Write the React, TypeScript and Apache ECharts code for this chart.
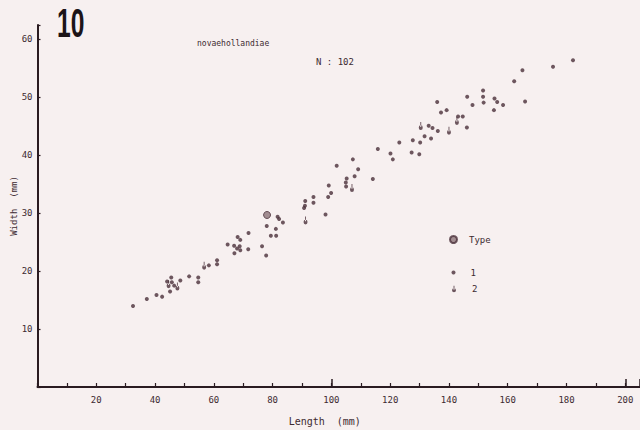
import React, { useEffect, useRef } from "react";
import * as echarts from "echarts";

// Shell length / width (mm), specimens plotted singly
const lengthOne = [
  32.5, 37.2, 40.5, 42.4, 45.5, 44.1, 45.7, 46.5, 45.1, 48.6, 51.6, 54.7, 54.7, 58.3, 61.1, 61.1,
  64.7, 66.9, 67.0, 68.1, 69.0, 68.8, 67.9, 69.0, 71.8, 71.7, 76.4, 77.8, 78.0, 81.7, 82.2, 83.5,
  81.1, 79.4, 81.2, 91.1, 91.0, 90.7, 93.9, 93.9, 98.0, 98.9, 99.9, 99.1, 101.8, 105.2, 104.9,
  105.0, 107.3, 107.9, 109.1, 114.1, 115.8, 120.1, 120.9, 123.1, 127.3, 129.9, 127.7, 130.2,
  131.7, 133.1, 134.4, 136.2, 133.9, 136.0, 137.3, 139.2, 143.1, 144.7, 146.1, 146.2, 148.0,
  151.6, 151.6, 151.8, 155.5, 156.4, 155.3, 158.4, 162.2, 165.0, 165.9, 175.4, 182.2,
];
const widthOne = [
  14.0, 15.2, 15.9, 15.6, 18.9, 18.2, 18.1, 17.5, 16.5, 18.4, 19.1, 18.9, 18.1, 21.0, 21.9, 21.2,
  24.6, 24.4, 23.1, 25.9, 25.4, 24.3, 23.9, 23.6, 26.6, 23.8, 24.3, 22.7, 27.8, 29.4, 29.0, 28.4,
  27.3, 26.1, 26.1, 32.1, 31.3, 30.9, 32.8, 31.8, 29.8, 32.8, 33.5, 34.8, 38.2, 36.0, 35.3,
  34.6, 39.3, 36.4, 37.6, 35.9, 41.1, 40.3, 39.3, 42.2, 40.5, 40.2, 42.6, 42.2,
  43.3, 45.1, 44.7, 44.2, 42.9, 49.2, 47.4, 47.8, 46.7, 46.7, 44.8, 50.1, 48.7,
  51.2, 50.1, 49.1, 49.8, 49.2, 47.8, 48.7, 52.8, 54.7, 49.3, 55.3, 56.4,
];

// Coinciding pairs of specimens
const lengthTwo = [44.6, 47.6, 56.7, 91.2, 107.0, 130.4, 140.0, 142.7];
const widthTwo = [17.4, 17.0, 20.6, 28.4, 34.0, 44.7, 43.9, 45.6];

// Type specimen
const lengthType = [78.1];
const widthType = [29.7];

const xTickLabels = [20, 40, 60, 80, 100, 120, 140, 160, 180, 200];
const yTickLabels = [10, 20, 30, 40, 50, 60];

const ink = "#4a3039";
const axisInk = "#2a1b21";
const textInk = "#3d2a31";
const mono = '"DejaVu Sans Mono", "Liberation Mono", monospace';

const pairSymbol = "path://M0,7A3,3,0,1,0,6,7A3,3,0,1,0,0,7Z M2.3,0H3.7V6H2.3Z";

const zip = (xs: number[], ys: number[]) => xs.map((x, i) => [x, ys[i]]);

const legendText = (padLeft: number) => ({
  fontFamily: mono,
  fontSize: 9,
  color: textInk,
  padding: [0, 0, 0, padLeft],
});

export default function App() {
  const ref = useRef<HTMLDivElement>(null);

  useEffect(() => {
    if (!ref.current) return;
    const chart = echarts.init(ref.current, null, { renderer: "svg" });
    const xShown = new Set(xTickLabels.map(String));
    const yShown = new Set(yTickLabels.map(String));

    chart.setOption({
      animation: false,
      backgroundColor: "#f7f0f0",
      grid: { left: 37.5, right: 0, top: 25, bottom: 43, outerBoundsMode: "none" },
      graphic: [
        {
          type: "text",
          x: 57,
          y: 7,
          scaleX: 0.6,
          style: {
            text: "10",
            font: 'bold 41px "Liberation Sans Narrow", "Liberation Sans", sans-serif',
            lineHeight: 30,
            fill: "#1c1418",
          },
        },
        {
          type: "text",
          x: 197,
          y: 39,
          style: { text: "novaehollandiae", font: `8px ${mono}`, fill: textInk },
        },
        {
          type: "text",
          x: 316,
          y: 57,
          style: { text: "N : 102", font: `9px ${mono}`, fill: textInk },
        },
      ],
      legend: [
        {
          data: ["Type"],
          left: 444,
          top: 230,
          itemWidth: 7,
          itemHeight: 7,
          textStyle: legendText(7),
        },
        {
          data: ["1"],
          left: 446.5,
          top: 263,
          itemWidth: 4,
          itemHeight: 4,
          textStyle: legendText(10),
        },
        {
          data: ["2"],
          left: 447,
          top: 279.5,
          itemWidth: 4,
          itemHeight: 8,
          textStyle: legendText(11),
        },
      ],
      xAxis: [
        {
          type: "value",
          min: 0,
          max: 205,
          interval: 20,
          name: "Length  (mm)",
          nameLocation: "middle",
          nameGap: 29,
          nameMoveOverlap: false,
          nameTextStyle: { fontFamily: mono, fontSize: 10, color: textInk, padding: [0, 28, 0, 0] },
          splitLine: { show: false },
          axisLine: { lineStyle: { color: axisInk, width: 2 } },
          axisTick: { inside: true, length: 4, lineStyle: { color: axisInk, width: 1.2 } },
          minorTick: { show: true, splitNumber: 2, length: 4, lineStyle: { color: axisInk, width: 1.2 } },
          axisLabel: {
            margin: 8,
            fontFamily: mono,
            fontSize: 9,
            color: textInk,
            formatter: (v: number) => (xShown.has(String(v)) ? String(v) : ""),
          },
        },
        {
          type: "value",
          position: "bottom",
          min: 0,
          max: 205,
          interval: 100,
          splitLine: { show: false },
          axisLine: { show: false },
          axisTick: { inside: true, length: 8, lineStyle: { color: axisInk, width: 1.5 } },
          axisLabel: { show: false },
        },
      ],
      yAxis: {
        type: "value",
        min: 0,
        max: 62.5,
        interval: 10,
        name: "Width  (mm)",
        nameLocation: "middle",
        nameGap: 19,
        nameMoveOverlap: false,
        nameTextStyle: { fontFamily: mono, fontSize: 9, color: textInk },
        splitLine: { show: false },
        axisLine: { lineStyle: { color: axisInk, width: 2 } },
        axisTick: { inside: true, length: 3, lineStyle: { color: axisInk, width: 1.2 } },
        axisLabel: {
          margin: 5,
          fontFamily: mono,
          fontSize: 9,
          color: textInk,
          formatter: (v: number) => (yShown.has(String(v)) ? String(v) : ""),
        },
      },
      series: [
        {
          name: "Type",
          type: "scatter",
          symbol: "circle",
          symbolSize: 7,
          itemStyle: { color: "#8c7479", borderColor: "#4a3039", borderWidth: 1 },
          data: zip(lengthType, widthType),
          z: 3,
        },
        {
          name: "1",
          type: "scatter",
          symbol: "circle",
          symbolSize: 4,
          itemStyle: { color: ink },
          data: zip(lengthOne, widthOne),
        },
        {
          name: "2",
          type: "scatter",
          symbol: pairSymbol,
          symbolSize: [4, 8],
          symbolOffset: [0, -2],
          itemStyle: { color: ink },
          data: zip(lengthTwo, widthTwo),
        },
      ],
    });

    return () => chart.dispose();
  }, []);

  return (
    <div
      ref={ref}
      style={{ position: "fixed", left: 0, top: 0, width: 640, height: 430 }}
    />
  );
}
